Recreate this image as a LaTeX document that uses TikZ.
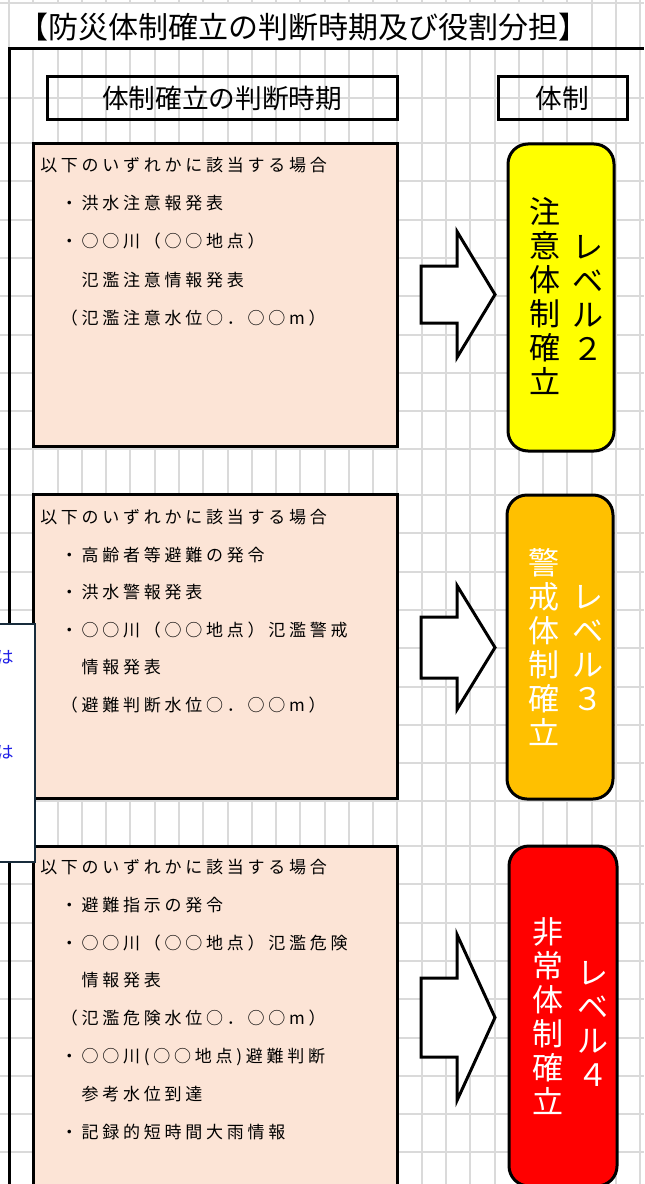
\documentclass[tikz,border=0pt]{standalone}
\usepackage{fontspec}
\setmainfont{Noto Sans CJK JP}
\newfontfamily\condfont[LetterSpace=22]{Noto Sans CJK JP}
\usetikzlibrary{arrows.meta}
\definecolor{gridgray}{RGB}{218,218,218}
\definecolor{condfill}{RGB}{252,228,214}
\definecolor{lvlyellow}{RGB}{255,255,0}
\definecolor{lvlorange}{RGB}{255,192,0}
\definecolor{lvlred}{RGB}{255,0,0}
\definecolor{memoline}{RGB}{24,44,60}
\definecolor{memotext}{RGB}{30,30,230}
\tikzset{
    headbox/.style={draw,line width=2.25pt,minimum height=32.25pt,inner sep=0,
                    font=\fontsize{20}{22}\selectfont},
    condbox/.style={draw,fill=condfill,line width=2.25pt,minimum width=273pt},
    condline/.style={anchor=base west,inner sep=0,
                     font=\condfont\fontsize{12.75}{15}\selectfont},
    lvlbox/.style={draw,line width=2.25pt,rounded corners=15pt,minimum width=79.5pt},
    lvltext/.style={align=center,inner sep=0,font=\fontsize{23.25}{25.5}\selectfont},
    blockarrow/.style={draw,fill=white,line width=2.25pt,line join=miter}
}

\begin{document}
\begin{tikzpicture}[x=0.75pt,y=-0.75pt]
\useasboundingbox (0,0) rectangle (644,1184);
\fill[white] (0,0) rectangle (644,1184);

\begin{scope}[draw=gridgray,line width=1.5pt]
    \foreach \gx in {0,...,26}
        \draw (9+24.28*\gx,0) -- (9+24.28*\gx,1184);
    \foreach \gy in {3,98}
        \draw (0,\gy) -- (644,\gy);
    \foreach \base in {143,495,846}
        \foreach \k in {0,...,8}
            \draw (0,\base+38.3*\k) -- (644,\base+38.3*\k);
\end{scope}

\fill[white] (11,4.5) rectangle (590,47.5);
\node[anchor=west,inner sep=0,font=\fontsize{22.5}{26}\selectfont] (title) at (18,27)
    {【防災体制確立の判断時期及び役割分担】};
\draw[line width=2.25pt] (8,49) -- (644,49);
\draw[line width=2.25pt] (9.5,48) -- (9.5,1184);

\node[headbox,minimum width=262.5pt] (headtime) at (222,98.5) {体制確立の判断時期};
\node[headbox,minimum width=96.75pt] (headlvl) at (562.5,98.5) {体制};

\node[condbox,minimum height=226.5pt] (cond2) at (215,295) {};
\node[condbox,minimum height=228pt] (cond3) at (215,646) {};
\node[condbox,minimum height=265.5pt] (cond4) at (215,1023) {};

\foreach \ln [count=\i] in {以下のいずれかに該当する場合,
        　・洪水注意報発表,
        　・○○川（○○地点）,
        　　氾濫注意情報発表,
        　（氾濫注意水位○．○○m）}
    \node[condline] (cond2l\i) at (40,171.5+38.2*\i-38.2) {\ln};
\foreach \ln [count=\i] in {以下のいずれかに該当する場合,
        　・高齢者等避難の発令,
        　・洪水警報発表,
        　・○○川（○○地点）氾濫警戒,
        　　情報発表,
        　（避難判断水位○．○○m）}
    \node[condline] (cond3l\i) at (40,523.5+37.6*\i-37.6) {\ln};
\foreach \ln [count=\i] in {以下のいずれかに該当する場合,
        　・避難指示の発令,
        　・○○川（○○地点）氾濫危険,
        　　情報発表,
        　（氾濫危険水位○．○○m）,
        　・○○川(○○地点)避難判断,
        　　参考水位到達,
        　・記録的短時間大雨情報}
    \node[condline] (cond4l\i) at (40,873.5+37.8*\i-37.8) {\ln};

\foreach \ay/\sh/\hh in {294.5/28.5/63, 647.5/30.5/62, 1017.5/39.5/83}
    \draw[blockarrow] (421,\ay-\sh) -- (457,\ay-\sh) -- (457,\ay-\hh) -- (495,\ay)
        -- (457,\ay+\hh) -- (457,\ay+\sh) -- (421,\ay+\sh) -- cycle;

\node[lvlbox,fill=lvlyellow,minimum height=230.25pt] (lvl2) at (561,297.5) {};
\node[lvlbox,fill=lvlorange,minimum height=228pt] (lvl3) at (560,647) {};
\node[lvlbox,fill=lvlred,minimum width=81pt,minimum height=255pt] (lvl4) at (563,1016) {};

\node[lvltext] (lvl2a) at (545,296.5) {注\\意\\体\\制\\確\\立};
\node[lvltext] (lvl2b) at (588,298) {レ\\ベ\\ル\\２};
\node[lvltext,white] (lvl3a) at (544,646.5) {警\\戒\\体\\制\\確\\立};
\node[lvltext,white] (lvl3b) at (588,648) {レ\\ベ\\ル\\３};
\node[lvltext,white] (lvl4a) at (548,1016.5) {非\\常\\体\\制\\確\\立};
\node[lvltext,white] (lvl4b) at (593,1023.5) {レ\\ベ\\ル\\４};

\node[draw=memoline,fill=white,line width=1.5pt,minimum width=56.25pt,minimum height=178.5pt,
      inner sep=0] (memo) at (-2.5,743) {};
\node[inner sep=0,memotext,font=\fontsize{12.75}{15}\selectfont] (memo1) at (5,657) {は};
\node[inner sep=0,memotext,font=\fontsize{12.75}{15}\selectfont] (memo2) at (5,752) {は};
\end{tikzpicture}
\end{document}
